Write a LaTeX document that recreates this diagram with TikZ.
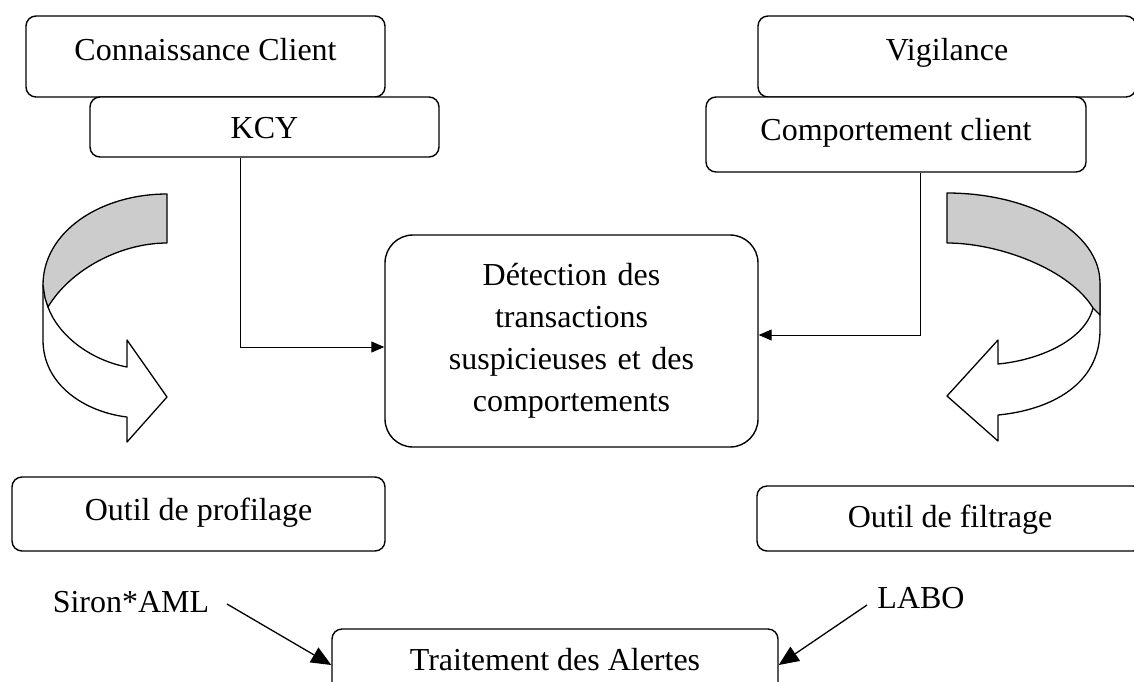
\documentclass[tikz,border=0pt]{standalone}
\usepackage{fontspec}
\setmainfont{Liberation Serif}
\usetikzlibrary{arrows.meta,calc}
\begin{document}
\begin{tikzpicture}[x=1pt,y=-1pt,
  txt/.style={font=\fontsize{32}{42}\selectfont, inner sep=0pt},
  box/.style={txt, draw, line width=1.4pt, rounded corners=10pt, anchor=base},
  conn/.style={line width=1pt, -{Triangle[length=13pt,width=11pt]}},
  conn2/.style={line width=1.3pt, -{Triangle[length=20pt,width=17pt]}},
  band/.style={line width=1.3pt, line join=round},
]
\useasboundingbox (0,0) rectangle (1134,681);
\clip (0,0) rectangle (1134,681);

% top-left boxes
\node[box, minimum width=359pt, text height=44pt, text depth=37pt] (cc) at (205.5,60) {Connaissance Client};
\node[box, fill=white, minimum width=349pt, text height=41pt, text depth=19pt] (kcy) at (264.5,138) {KCY};

% top-right boxes
\node[box, minimum width=378pt, text height=44pt, text depth=37pt] (vig) at (947,60) {Vigilance};
\node[box, fill=white, minimum width=380pt, text height=43pt, text depth=32pt] (comp) at (896,140) {Comportement client};

% central box
\node[txt, draw, line width=1.4pt, rounded corners=28pt, minimum width=373pt, minimum height=212pt,
      text width=340pt, align=center] (det) at (571.5,341)
  {D\'etection des\\transactions\\suspicieuses et des\\comportements};

% bottom boxes
\node[box, minimum width=373pt, text height=43pt, text depth=31pt] (prof) at (198.5,520) {Outil de profilage};
\node[box, minimum width=386pt, text height=41pt, text depth=24pt] (filt) at (950,527) {Outil de filtrage};
\node[box, minimum width=446pt, text height=41pt, text depth=30pt] (trait) at (555,670) {Traitement des Alertes};

% labels
\node[txt, anchor=base] (siron) at (131,612) {Siron*AML};
\node[txt, anchor=base] (labo) at (921,608) {LABO};

% connectors
\draw[conn] ([xshift=-24.5pt]kcy.south) |- ([yshift=-6pt]det.west);
\draw[conn] ([xshift=24pt]comp.south) |- ([yshift=6pt]det.east);

\coordinate (s1) at (227,604);
\coordinate (s2) at (trait.west |- 0,665);
\draw[conn2] (s1) -- (s2);
\coordinate (l1) at (867,605);
\coordinate (l2) at (trait.east |- 0,665);
\draw[conn2] (l1) -- (l2);

% left curved arrow
\draw[band, fill=white]
  (43,285) -- (43,340) .. controls (43,385) and (85,412) .. (127,417)
  -- (127,442) -- (167,397) -- (127,340) -- (127,367)
  .. controls (90,360) and (58,335) .. (48,307) -- cycle;
\draw[band, fill=gray!40]
  (167,194) .. controls (100,194) and (43,232) .. (43,285)
  -- (45,298) -- (48,307)
  .. controls (70,270) and (120,243) .. (167,243) -- cycle;

% right curved arrow
\draw[band, fill=white]
  (1100,283) -- (1100,330) .. controls (1100,385) and (1050,410) .. (998,415)
  -- (998,441) -- (947,396) -- (998,340) -- (998,364)
  .. controls (1040,360) and (1085,340) .. (1093,308) -- cycle;
\draw[band, fill=gray!40]
  (947,193) .. controls (1030,193) and (1100,232) .. (1100,283)
  -- (1100,315) -- (1093,308)
  .. controls (1070,270) and (1000,243) .. (947,243) -- cycle;
\end{tikzpicture}
\end{document}
